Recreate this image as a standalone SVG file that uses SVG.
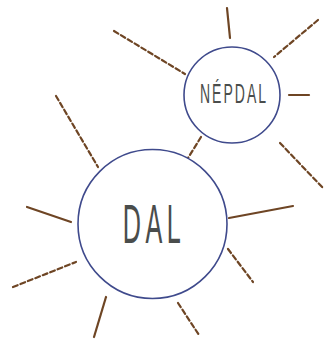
<svg xmlns="http://www.w3.org/2000/svg" width="324" height="339" viewBox="0 0 324 339">
<style>
.c{fill:#fff;stroke:#3f4a8c;stroke-width:1.6}
.r{stroke:#6e4524;stroke-width:2.2;stroke-linecap:round;fill:none}
.d{stroke-dasharray:5,3}
.t{font-family:"Liberation Sans",Arial,sans-serif;fill:#4a4d4c;text-anchor:middle}
</style>
<rect width="324" height="339" fill="#fff"/>
<g id="connectors">
<line class="r" x1="227" y1="8" x2="230" y2="38"/>
<line class="r d" x1="318" y1="20" x2="274" y2="57"/>
<line class="r d" x1="114" y1="31" x2="185" y2="74"/>
<line class="r" x1="289" y1="95" x2="309" y2="95"/>
<line class="r d" x1="280" y1="143" x2="323" y2="188"/>
<line class="r d" x1="56" y1="96" x2="98" y2="167"/>
<line class="r d" x1="201" y1="137" x2="188" y2="158"/>
<line class="r" x1="27" y1="207" x2="71" y2="222"/>
<line class="r" x1="229" y1="218" x2="293" y2="206"/>
<line class="r d" x1="13" y1="287" x2="76" y2="262"/>
<line class="r d" x1="228" y1="249" x2="253" y2="282"/>
<line class="r" x1="106" y1="297" x2="94" y2="337"/>
<line class="r d" x1="178" y1="303" x2="199" y2="335"/>
</g>
<g id="nepdal">
<circle class="c" cx="232" cy="95" r="48"/>
<text class="t" font-size="28" letter-spacing="4" transform="translate(234,103) scale(0.5,1)">NÉPDAL</text>
</g>
<g id="dal">
<circle class="c" cx="152.5" cy="224" r="74.5"/>
<text class="t" font-size="56" letter-spacing="10" transform="translate(154,243) scale(0.45,1)">DAL</text>
</g>
</svg>
